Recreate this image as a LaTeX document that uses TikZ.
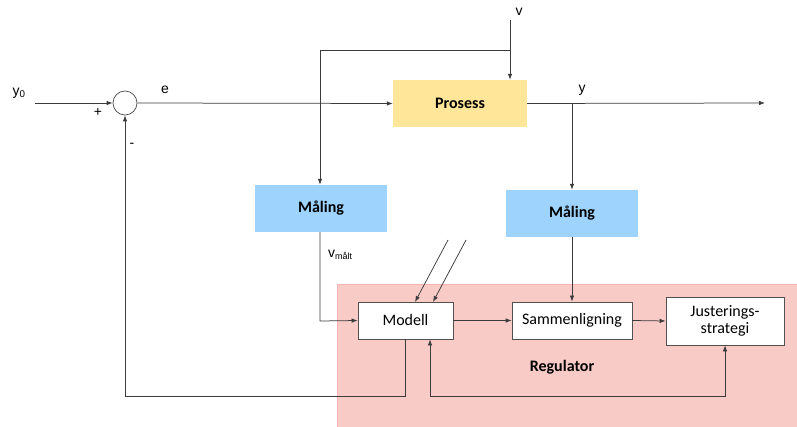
\documentclass[tikz,border=0pt]{standalone}
\usepackage{fontspec}
\setmainfont{Carlito}
\newfontfamily\labelfont{Liberation Sans}
\usetikzlibrary{arrows.meta,calc}
\definecolor{procfill}{HTML}{FFE699}
\definecolor{measfill}{HTML}{9DD3FD}
\definecolor{regfill}{HTML}{F8CBC7}
\definecolor{regedge}{HTML}{F4B5B0}
\definecolor{wire}{HTML}{3C3C3C}
\definecolor{boxedge}{HTML}{505050}
\tikzset{
  wireline/.style={draw=wire, line width=0.75pt},
  arr/.style={wireline, -{Latex[length=6pt,width=4.5pt]}},
  dblarr/.style={wireline, {Latex[length=6pt,width=4.5pt]}-{Latex[length=6pt,width=4.5pt]}},
  colorbox/.style={rectangle, inner sep=0pt, font=\fontsize{16}{19}\selectfont\bfseries},
  whitebox/.style={rectangle, draw=boxedge, fill=white, line width=0.75pt, inner sep=0pt,
    align=center, font=\fontsize{16}{19}\selectfont},
  lbl/.style={inner sep=0pt, font=\labelfont\fontsize{14}{16}\selectfont}
}
\begin{document}
\begin{tikzpicture}[x=1pt,y=-1pt]
\useasboundingbox (0,0) rectangle (797,427);
\fill[white] (0,0) rectangle (797,427);

% regulator area
\node[rectangle, fill=regfill, draw=regedge, line width=1pt, inner sep=0pt,
  minimum width=462pt, minimum height=146pt, anchor=north west] (reg) at (337,284) {};
\node[font=\fontsize{16}{19}\selectfont\bfseries, inner sep=0pt] (reglbl) at (562,367) {Regulator};

% blocks
\node[colorbox, fill=procfill, minimum width=134pt, minimum height=47pt] (prosess) at (460,103.5) {Prosess};
\node[colorbox, fill=measfill, minimum width=132pt, minimum height=47pt] (maal1) at (321,208.5) {Måling};
\node[colorbox, fill=measfill, minimum width=132pt, minimum height=47pt] (maal2) at (572,213.5) {Måling};
\node[whitebox, minimum width=95pt, minimum height=37pt] (modell) at (405.5,320.5) {Modell};
\node[whitebox, minimum width=120pt, minimum height=37pt] (samm) at (572,320.5) {Sammenligning};
\node[whitebox, minimum width=118pt, minimum height=48pt] (just) at (725,321) {Justerings-\\[-2pt]strategi};

% summing junction
\node[circle, draw=boxedge, fill=white, line width=0.75pt, minimum size=24pt, inner sep=0pt] (sum) at (125,103) {};

% labels
\node[lbl] (y0) at (19,93) {y\textsubscript{0}};
\node[lbl] (plus) at (98,112) {+};
\node[lbl] (minus) at (132,145) {-};
\node[lbl] (elbl) at (165,90) {e};
\node[lbl] (vlbl) at (519,12) {v};
\node[lbl] (ylbl) at (582,90) {y};
\node[lbl, anchor=west] (vmaalt) at (328,255) {v\textsubscript{\fontsize{9}{10}\selectfont målt}};

% coordinates for wires
\coordinate (yin) at (35,103);
\coordinate (vtop) at (510,20);
\coordinate (vbr) at (510,50);
\coordinate (vleft) at (320,50);
\coordinate (yout) at (765,103);
\coordinate (ybr) at (572,103);
\coordinate (vmcorner) at (320,321);
\coordinate (fbdown) at (405,396);
\coordinate (fbleft) at (125,396);
\coordinate (adj) at (430,396);
\coordinate (adjr) at (725,396);
\coordinate (d1s) at (448,240);
\coordinate (d1e) at (415,302);
\coordinate (d2s) at (466,240);
\coordinate (d2e) at (433,302);

% forward path
\draw[arr] (yin) -- (sum.west);
\draw[arr] (sum.east) -- (prosess.west);
\draw[arr] (prosess.east) -- (yout);

% disturbance
\draw[arr] (vtop) -- (vtop |- prosess.north);
\draw[arr] (vbr) -- (vleft) -- (vleft |- maal1.north);

% output measurement
\draw[arr] (ybr) -- (ybr |- maal2.north);
\draw[arr] (maal2.south) -- (samm.north);

% measured disturbance into model
\draw[arr] (maal1.south -| vleft) -- (vmcorner) -- (modell.west);

% external inputs to model
\draw[arr] (d1s) -- (d1e);
\draw[arr] (d2s) -- (d2e);

% regulator chain
\draw[arr] (modell.east) -- (samm.west);
\draw[arr] (samm.east) -- (just.west);
\draw[dblarr] (adj |- modell.south) -- (adj) -- (adjr) -- (just.south);

% feedback to summing junction
\draw[arr] (modell.south -| fbdown) -- (fbdown) -- (fbleft) -- (sum.south);
\end{tikzpicture}
\end{document}
